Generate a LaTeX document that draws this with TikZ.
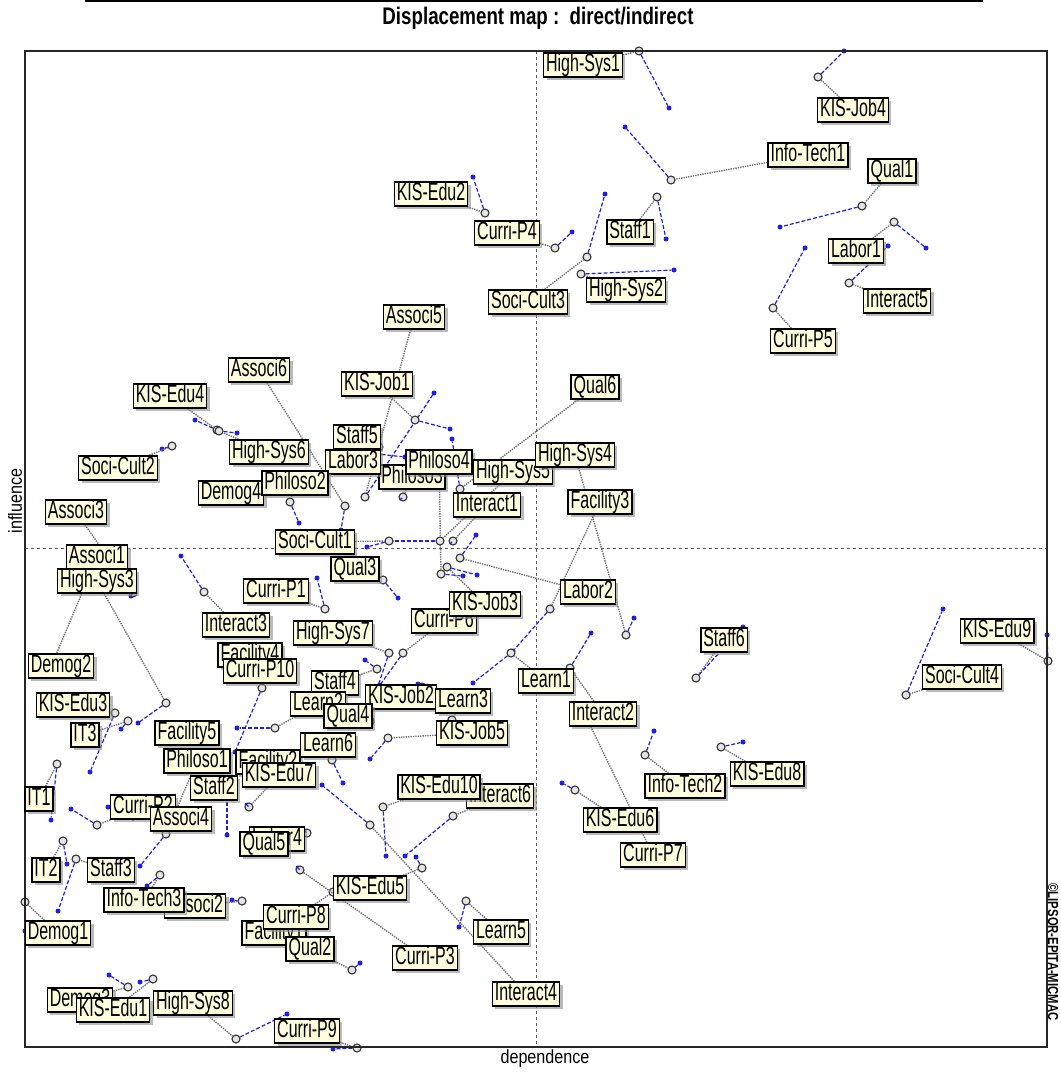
\documentclass[tikz,border=0pt]{standalone}
\usepackage{fontspec}
\setmainfont{Liberation Sans}[FakeStretch=0.64]
\newfontfamily\titlefont{Liberation Sans}[FakeStretch=0.78,BoldFont={Liberation Sans Bold}]
\newfontfamily\axisfont{Liberation Sans}[FakeStretch=0.85]
\usetikzlibrary{shadows}
\definecolor{labelfill}{RGB}{255,253,222}
\definecolor{shiftblue}{RGB}{30,30,235}
\pgfdeclarelayer{bg}
\pgfsetlayers{bg,main}

\begin{document}
\begin{tikzpicture}[x=1pt, y=-1pt,
    varbox/.style={rectangle, draw=black, line width=1.5pt, fill=labelfill,
      inner xsep=2.5pt, inner ysep=1.5pt, text height=17pt, text depth=4pt,
      font=\fontsize{25}{27}\selectfont,
      drop shadow={shadow xshift=3pt, shadow yshift=-3pt, fill=black!45, opacity=0.6}},
    directpt/.style={circle, draw=black!80, fill=black!10, line width=1.1pt, minimum size=8pt, inner sep=0pt},
    indirectpt/.style={circle, fill=shiftblue, minimum size=5pt, inner sep=0pt},
    leader/.style={densely dotted, line width=1.4pt, black!55},
    shiftline/.style={dash pattern=on 4pt off 2pt, line width=1.2pt, shiftblue},
    axisline/.style={dashed, line width=0.7pt, black!65}]
    \useasboundingbox (0,0) rectangle (1060,1073);

    % Frame and axes
    \coordinate (tl) at (25,51);
    \coordinate (br) at (1047,1047);
    \coordinate (xa) at (536,51);
    \coordinate (xb) at (536,1047);
    \coordinate (ya) at (25,548);
    \coordinate (yb) at (1047,548);
    \coordinate (ta) at (85,1);
    \coordinate (tb) at (983,1);
    \draw [line width=2.5pt] (ta) -- (tb);
    \draw [axisline] (xa) -- (xb);
    \draw [axisline] (ya) -- (yb);
    \draw [line width=2pt, black!85] (tl) rectangle (br);

    \node [font=\titlefont\bfseries\fontsize{24}{26}\selectfont] (title) at (538,18) {Displacement map :\ \ direct/indirect};
    \node [rotate=90, font=\axisfont\fontsize{19}{21}\selectfont] (infl) at (15,501) {influence};
    \node [font=\axisfont\fontsize{19}{21}\selectfont] (depd) at (545,1059) {dependence};
    \node [rotate=-90, font=\titlefont\bfseries\fontsize{14.5}{16}\selectfont] (copy) at (1053,952) {©LIPSOR-EPITA-MICMAC};

    % Variables: label, direct position (circle), indirect position (dot)
    \foreach \id/\txt/\bx/\by/\cx/\cy/\dx/\dy in {
      hs1/High-Sys1/583/65/639/51/669/108,
      kj4/KIS-Job4/853/110/818/77/844/51,
      it1/Info-Tech1/808/155/671/180/625/127,
      q1/Qual1/892/171/862/206/780/227,
      ke2/KIS-Edu2/431/194/485/213/473/177,
      cp4/Curri-P4/507/233/555/248/572/232,
      st1/Staff1/630/232/657/197/666/239,
      ia5/Interact5/897/301/849/283/888/246,
      lb1/Labor1/856/251/894/222/926/248,
      sc3/Soci-Cult3/528/302/587/257/605/194,
      hs2/High-Sys2/626/290/581/274/674/270,
      cp5/Curri-P5/803/341/773/308/805/248,
      as5/Associ5/414/317/365/497/434/393,
      as6/Associ6/259/370/345/506/341/530,
      kj1/KIS-Job1/377/384/415/420/450/429,
      q6/Qual6/595/387/460/489/452/439,
      ke4/KIS-Edu4/170/396/217/430/195/420,
      hs6/High-Sys6/269/452/219/431/237/433,
      sc2/Soci-Cult2/118/468/172/446/162/449,
      ph3/Philoso3/412/477/403/497/404/496,
      st5/Staff5/357/437/379/447/380/446,
      lb3/Labor3/353/462/377/454/405/457,
      ph4/Philoso4/439/462/441/574/463/576,
      hs5/High-Sys5/513/472/440/541/391/541,
      hs4/High-Sys4/575/455/626/635/634/618,
      dm4/Demog4/231/493/231/493/231/493,
      ph2/Philoso2/295/483/290/502/299/523,
      ia1/Interact1/487/505/453/541/454/540,
      fc3/Facility3/600/502/550/609/513/651,
      as3/Associ3/76/512/133/593/131/596,
      sc1/Soci-Cult1/315/542/389/541/367/547,
      q3/Qual3/355/569/383/580/398/598,
      as1/Associ1/97/557/48/674/47/673,
      hs3/High-Sys3/97/581/166/703/138/723,
      lb2/Labor2/588/592/460/558/476/535,
      cp6/Curri-P6/444/621/403/653/380/685,
      kj3/KIS-Job3/485/604/447/567/477/575,
      cp1/Curri-P1/276/591/325/609/317/578,
      ia3/Interact3/236/625/204/592/181/556,
      hs7/High-Sys7/333/633/389/653/378/686,
      fc4/Facility4/250/655/250/655/250/655,
      cp10/Curri-P10/260/671/262/688/235/752,
      st6/Staff6/724/640/696/678/743/627,
      ke9/KIS-Edu9/997/631/1048/661/1047/635,
      dm2/Demog2/61/666/61/666/61/666,
      st4/Staff4/335/683/377/669/365/660,
      ln2/Learn2/318/704/275/728/237/728,
      kj2/KIS-Job2/401/697/422/687/418/684,
      ln3/Learn3/463/701/452/720/450/719,
      ln1/Learn1/546/681/511/653/473/683,
      sc4/Soci-Cult4/962/677/906/695/943/609,
      ke3/KIS-Edu3/73/705/115/713/90/772,
      q4/Qual4/348/716/370/722/372/720,
      kj5/KIS-Job5/472/733/388/738/370/759,
      ia2/Interact2/603/714/570/668/591/633,
      it3/IT3/85/735/128/721/121/729,
      fc5/Facility5/187/733/162/729/160/727,
      ph1/Philoso1/197/761/166/834/140/866,
      fc2/Facility2/268/762/268/762/268/762,
      ln6/Learn6/328/745/332/760/343/783,
      ke8/KIS-Edu8/767/774/721/747/743/742,
      it2x/Info-Tech2/685/786/645/755/654/731,
      st2/Staff2/214/788/227/791/227/835,
      ke7/KIS-Edu7/279/775/249/807/247/805,
      i1/IT1/39/799/57/764/51/820,
      cp2/Curri-P2/143/807/97/825/71/809,
      ia6/Interact6/500/796/453/816/405/856,
      ke10/KIS-Edu10/439/787/383/807/386/856,
      as4/Associ4/181/819/133/816/108/807,
      lb4/Labor4/277/839/307/833/305/831,
      q5/Qual5/264/844/264/844/264/844,
      ke6/KIS-Edu6/620/820/575/790/562/783,
      cp7/Curri-P7/653/855/588/721/590/719,
      i2/IT2/46/870/63/841/67/864,
      st3/Staff3/111/870/76/859/58/911,
      ke5/KIS-Edu5/370/888/422/868/416/857,
      as2/Associ2/195/906/242/901/232/900,
      it3x/Info-Tech3/144/900/160/875/147/886,
      fc1/Facility1/274/933/274/933/274/933,
      cp8/Curri-P8/296/917/333/892/335/890,
      q2/Qual2/310/949/352/970/360/963,
      ln5/Learn5/501/932/466/901/459/927,
      dm1/Demog1/58/933/25/902/25/931,
      cp3/Curri-P3/425/958/300/870/298/868,
      ia4/Interact4/526/994/370/825/322/785,
      dm3/Demog3/80/1000/128/987/109/975,
      ke1/KIS-Edu1/113/1010/153/979/140/982,
      hs8/High-Sys8/193/1003/236/1039/287/1014,
      cp9/Curri-P9/307/1031/357/1048/333/1049}{
      \node [varbox] (b\id) at (\bx,\by) {\txt};
      \begin{pgfonlayer}{bg}
        \node [indirectpt] (d\id) at (\dx,\dy) {};
        \node [directpt] (c\id) at (\cx,\cy) {};
        \draw [leader] (b\id) -- (c\id);
        \draw [shiftline] (c\id) -- (d\id);
      \end{pgfonlayer}
    }
\end{tikzpicture}
\end{document}
